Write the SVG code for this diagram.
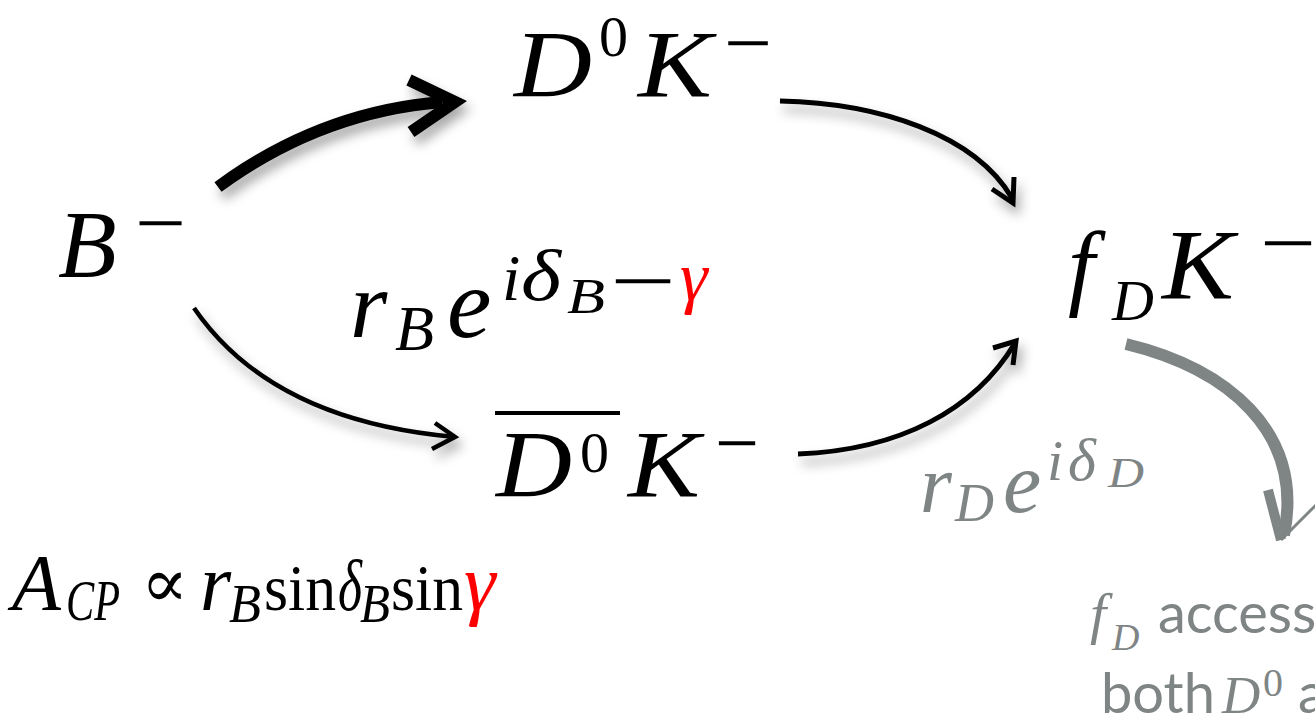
<svg xmlns="http://www.w3.org/2000/svg" width="1315" height="722" viewBox="0 0 1315 722">
<style>
.m{font-family:"Liberation Serif","DejaVu Serif",serif;font-style:italic;fill:#000}
.u{font-family:"Liberation Serif","DejaVu Serif",serif;font-style:normal;fill:#000}
.mn{font-family:"Liberation Serif",serif;font-style:normal;font-size:80px;fill:#000}
.red{fill:#ff0000}
.g{fill:#7f8585}
.sans{font-family:Lato,"Open Sans",sans-serif;fill:#7f8585}
.arr{fill:none;stroke:#000;stroke-linejoin:miter;stroke-linecap:butt}
.garr{fill:none;stroke:#7f8585;stroke-linejoin:miter;stroke-linecap:butt}
</style>
<defs>
<filter id="sh" x="-20%" y="-20%" width="140%" height="160%">
<feDropShadow dx="4" dy="8" stdDeviation="6" flood-color="#000" flood-opacity="0.35"/>
</filter>
</defs>
<rect width="1315" height="722" fill="#fff"/>

<g id="connectors">
<g filter="url(#sh)">
<path class="arr" stroke-width="12" d="M218,187 Q320,112 442,102"/>
<path class="arr" stroke-width="12" d="M409,80 L455,102 L411,132"/>
</g>
<g filter="url(#sh)">
<path class="arr" stroke-width="5" d="M780,101 C880,103 975,135 1012,198"/>
<path class="arr" stroke-width="5" d="M992,189 L1013,203 L1014,177"/>
</g>
<g filter="url(#sh)">
<path class="arr" stroke-width="4.5" d="M194,308 C240,375 320,425 455,437"/>
<path class="arr" stroke-width="4.5" d="M435,423 L455,437 L432,449"/>
</g>
<g filter="url(#sh)">
<path class="arr" stroke-width="5" d="M798,454 C900,450 975,410 1015,343"/>
<path class="arr" stroke-width="5" d="M993,348 L1016,341 L1013,365"/>
</g>
<g>
<path class="garr" stroke-width="12" d="M1126,344 C1225,368 1305,430 1284,535"/>
<path class="garr" stroke-width="10" d="M1268,490 L1281,540"/>
<path class="garr" stroke-width="3" d="M1281,540 L1316,505"/>
</g>
</g>

<g id="node-B">
<text class="m" x="58" y="277" font-size="96">B</text>
<text class="mn" x="135" y="250" textLength="51" lengthAdjust="spacingAndGlyphs">−</text>
</g>

<g id="node-D0K">
<text class="m" x="514" y="97" font-size="96" textLength="78" lengthAdjust="spacingAndGlyphs">D</text>
<text class="u" x="599" y="56" font-size="58">0</text>
<text class="m" x="638" y="97" font-size="96" textLength="74" lengthAdjust="spacingAndGlyphs">K</text>
<text class="mn" x="724" y="70" textLength="48" lengthAdjust="spacingAndGlyphs">−</text>
</g>

<g id="node-D0barK">
<line x1="495" y1="413" x2="620" y2="413" stroke="#000" stroke-width="4"/>
<text class="m" x="496" y="497" font-size="96" textLength="76" lengthAdjust="spacingAndGlyphs">D</text>
<text class="u" x="580" y="472" font-size="58">0</text>
<text class="m" x="628" y="497" font-size="96" textLength="72" lengthAdjust="spacingAndGlyphs">K</text>
<text class="mn" x="715" y="470" textLength="44" lengthAdjust="spacingAndGlyphs">−</text>
</g>

<g id="node-fDK">
<text class="m" x="1068" y="298" font-size="96">f</text>
<text class="m" x="1112" y="320" font-size="58">D</text>
<text class="m" x="1162" y="298" font-size="100" textLength="72" lengthAdjust="spacingAndGlyphs">K</text>
<text class="mn" x="1260" y="270" textLength="56" lengthAdjust="spacingAndGlyphs">−</text>
</g>

<g id="label-rB">
<text class="m" x="350" y="337" font-size="96">r</text>
<text class="m" x="395" y="350" font-size="64">B</text>
<text class="m" x="447" y="337" font-size="100">e</text>
<text class="m" x="502" y="300" font-size="66">i</text>
<text class="m" x="521" y="300" font-size="72" textLength="40" lengthAdjust="spacingAndGlyphs">δ</text>
<text class="m" x="567" y="313" font-size="50" textLength="38" lengthAdjust="spacingAndGlyphs">B</text>
<text class="mn" x="610" y="308" textLength="66" lengthAdjust="spacingAndGlyphs">−</text>
<text class="m red" x="680" y="300" font-size="70">γ</text>
</g>

<g id="label-rD">
<text class="m g" x="920" y="512" font-size="82">r</text>
<text class="m g" x="955" y="521" font-size="54">D</text>
<text class="m g" x="1003" y="512" font-size="86">e</text>
<text class="m g" x="1047" y="480" font-size="58">i</text>
<text class="m g" x="1068" y="480" font-size="60">δ</text>
<text class="m g" x="1108" y="487" font-size="42" textLength="36" lengthAdjust="spacingAndGlyphs">D</text>
</g>

<g id="label-ACP">
<text class="m" x="12" y="610" font-size="80">A</text>
<text class="m" x="66" y="620" font-size="56" textLength="54" lengthAdjust="spacingAndGlyphs">CP</text>
<text class="u" x="141" y="607" font-size="70">∝</text>
<text class="m" x="200" y="610" font-size="80">r</text>
<text class="m" x="229" y="622" font-size="54" textLength="32" lengthAdjust="spacingAndGlyphs">B</text>
<text class="u" x="264" y="610" font-size="66" textLength="72" lengthAdjust="spacingAndGlyphs">sin</text>
<text class="m" x="338" y="610" font-size="72" textLength="24" lengthAdjust="spacingAndGlyphs">δ</text>
<text class="m" x="360" y="622" font-size="54" textLength="30" lengthAdjust="spacingAndGlyphs">B</text>
<text class="u" x="391" y="610" font-size="66" textLength="72" lengthAdjust="spacingAndGlyphs">sin</text>
<text class="m red" x="464" y="610" font-size="80">γ</text>
</g>

<g id="note">
<text class="m g" x="1090" y="633" font-size="58">f</text>
<text class="m g" x="1112" y="650" font-size="38">D</text>
<text class="sans" x="1158" y="633" font-size="56">access</text>
<text class="sans" x="1101" y="713" font-size="56">both</text>
<text class="m g" x="1222" y="713" font-size="53">D</text>
<text class="u g" x="1263" y="696" font-size="40">0</text>
<text class="sans" x="1298" y="713" font-size="56">a</text>
</g>
</svg>
